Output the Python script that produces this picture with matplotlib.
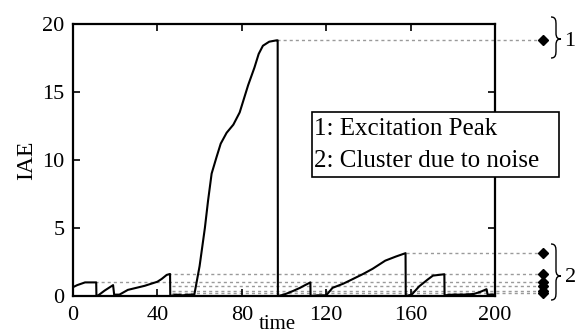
import matplotlib
matplotlib.use("Agg")
import matplotlib.pyplot as plt
from matplotlib.path import Path
from matplotlib.patches import PathPatch, Rectangle

plt.rcParams['font.family'] = ['Liberation Serif', 'DejaVu Serif']

# IAE curve
time = [0, 2, 5.7, 11, 11.1, 12, 15, 19, 19.5, 22, 26, 30, 34, 38, 40, 42, 44.4, 46, 46.1,
        49, 52, 55, 57.5, 60, 62.5, 64, 65.7, 68, 70, 72.8, 76, 79, 81, 83, 86, 88, 90, 93,
        96.5, 97, 97.1, 100, 104, 107.6, 110, 112.5, 112.6, 116, 120, 123, 128, 132, 137.5,
        142, 148, 153, 157.6, 157.7, 160.5, 164, 168, 170.6, 176, 176.1, 180, 185, 190, 193,
        196, 196.5, 200]
iae = [0.65, 0.8, 1.0, 1.0, 0.0, 0.05, 0.4, 0.8, 0.1, 0.1, 0.45, 0.6, 0.75, 0.95, 1.05, 1.25,
       1.55, 1.62, 0.0, 0.1, 0.05, 0.1, 0.1, 2.2, 5.0, 7.0, 9.0, 10.2, 11.2, 12.0, 12.6, 13.5,
       14.5, 15.5, 16.8, 17.8, 18.4, 18.7, 18.8, 18.8, 0.0, 0.1, 0.35, 0.6, 0.8, 1.0, 0.0, 0.05,
       0.05, 0.6, 0.9, 1.2, 1.62, 2.0, 2.6, 2.9, 3.15, 0.0, 0.1, 0.7, 1.2, 1.5, 1.6, 0.05, 0.1,
       0.1, 0.15, 0.3, 0.5, 0.1, 0.1]

# cluster levels: value and time where the dashed line starts
levels = [18.8, 3.15, 1.62, 1.0, 0.7, 0.4, 0.2]
level_start = [96.5, 157.6, 45, 10.4, 47, 47, 47]
marker_t = 222.7

legend_lines = ['1: Excitation Peak', '2: Cluster due to noise']

W, H = 576, 334


def fx(px):
    return px / W


def fy(py):
    return 1 - py / H


def brace(fig, x0, x1, top, bottom, tip):
    # thin curly brace opening left, tip pointing right, in pixel coords
    xm = (x0 + x1) / 2
    verts = [
        (x0, top), (xm, top), (xm, top + 4), (xm, top + 8),
        (xm, tip - 6),
        (xm, tip - 1), (xm + 2, tip), (x1, tip),
        (xm + 2, tip), (xm, tip + 1), (xm, tip + 6),
        (xm, bottom - 8),
        (xm, bottom - 4), (xm, bottom), (x0, bottom),
    ]
    codes = [Path.MOVETO, Path.CURVE4, Path.CURVE4, Path.CURVE4,
             Path.LINETO,
             Path.CURVE4, Path.CURVE4, Path.CURVE4,
             Path.CURVE4, Path.CURVE4, Path.CURVE4,
             Path.LINETO,
             Path.CURVE4, Path.CURVE4, Path.CURVE4]
    verts = [(fx(a), fy(b)) for a, b in verts]
    fig.add_artist(PathPatch(Path(verts, codes), transform=fig.transFigure,
                             fc='none', ec='black', lw=1.0))


fig = plt.figure(figsize=(5.76, 3.34), dpi=100)
ax = fig.add_axes([fx(73), fy(296), fx(495) - fx(73), fy(24) - fy(296)])

for lv, st in zip(levels, level_start):
    ax.plot([st, marker_t], [lv, lv], color='#9a9a9a', lw=1, linestyle=(0, (2.2, 2.2)),
            clip_on=False, zorder=1)
    ax.plot([marker_t], [lv], marker='D', ms=5, color='black', clip_on=False, zorder=3)

ax.plot(time, iae, color='black', lw=1.5, zorder=2)

ax.set_xlim(0, 200)
ax.set_ylim(0, 20)
ax.set_xticks([0, 40, 80, 120, 160, 200])
ax.set_yticks([0, 5, 10, 15, 20])
ax.tick_params(direction='in', top=True, right=True, length=5, labelsize=16, width=1.2)
ax.tick_params(axis='x', pad=7)
ax.tick_params(axis='y', pad=6)
for s in ax.spines.values():
    s.set_linewidth(1.6)

ax.set_ylabel('IAE', fontsize=17, labelpad=4)
ax.text(97, -2.1, 'time', fontsize=15, ha='center', va='center')

# braces labelling the two clusters
brace(fig, 551, 561, 17, 58, 39)
fig.text(fx(570), fy(41), '1', fontsize=16, ha='center', va='center')
brace(fig, 551, 561, 244, 300, 276)
fig.text(fx(571), fy(277), '2', fontsize=16, ha='center', va='center')

# text box
fig.add_artist(Rectangle((fx(312), fy(177)), fx(559) - fx(312), fy(112) - fy(177),
                         transform=fig.transFigure, fc='white', ec='black', lw=1.2, zorder=5))
fig.text(fx(314), fy(129), legend_lines[0], fontsize=18, ha='left', va='center', zorder=6)
fig.text(fx(314), fy(161), legend_lines[1], fontsize=18, ha='left', va='center', zorder=6)

fig.savefig('out.png', dpi=100)
